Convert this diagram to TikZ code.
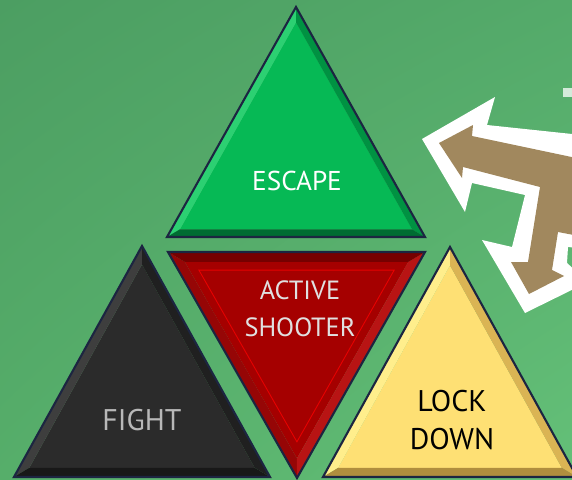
\documentclass[tikz,border=0pt]{standalone}
\usepackage{fontspec}
\setmainfont{PT Sans}
\usetikzlibrary{calc,shadings}
\definecolor{bgtl}{RGB}{76,158,98}
\definecolor{bgtr}{RGB}{84,170,106}
\definecolor{bgbl}{RGB}{86,174,106}
\definecolor{bgbr}{RGB}{100,192,120}
\definecolor{rimblue}{RGB}{28,37,65}
\definecolor{escface}{RGB}{6,185,85}
\definecolor{esclit}{RGB}{44,208,114}
\definecolor{escdim}{RGB}{0,146,66}
\definecolor{escbase}{RGB}{0,108,50}
\definecolor{fightface}{RGB}{43,43,43}
\definecolor{fightlit}{RGB}{62,62,62}
\definecolor{fightdim}{RGB}{32,32,32}
\definecolor{fightbase}{RGB}{24,24,24}
\definecolor{lockface}{RGB}{254,224,116}
\definecolor{locklit}{RGB}{255,238,140}
\definecolor{lockdim}{RGB}{218,180,84}
\definecolor{lockbase}{RGB}{176,142,62}
\definecolor{shootface}{RGB}{165,0,0}
\definecolor{shootleft}{RGB}{150,6,6}
\definecolor{shootright}{RGB}{184,20,20}
\definecolor{shoottop}{RGB}{118,0,0}
\definecolor{arrbrown}{RGB}{161,136,94}
\tikzset{
  rim/.style={draw=rimblue, line width=1.2pt, line join=miter},
  innerline/.style={draw=red!75!shootface, line width=0.5pt},
  escapetext/.style={text=white, font=\fontsize{15.5}{18}\selectfont},
  fighttext/.style={text=black!28, font=\fontsize{17}{20}\selectfont},
  locktext/.style={text=black, align=center, font=\fontsize{17}{21.5}\selectfont},
  shoottext/.style={text=black!12, align=center, font=\fontsize{15}{21}\selectfont},
  arrowrim/.style={fill=white},
  arrowbody/.style={fill=arrbrown}
}
% bevelled triangle: corners, inset, face, side 1-2, side 1-3, side 2-3
\newcommand{\bevtri}[8]{%
  \coordinate (#1m) at (barycentric cs:#1=1,#2=1,#3=1);
  \coordinate (#1in) at ($(#1m)!#4!(#1)$);
  \coordinate (#2in) at ($(#1m)!#4!(#2)$);
  \coordinate (#3in) at ($(#1m)!#4!(#3)$);
  \fill[#5] (#1in)--(#2in)--(#3in)--cycle;
  \fill[#6] (#1)--(#2)--(#2in)--(#1in)--cycle;
  \fill[#7] (#1)--(#3)--(#3in)--(#1in)--cycle;
  \fill[#8] (#2)--(#3)--(#3in)--(#2in)--cycle;
  \draw[rim] (#1)--(#2)--(#3)--cycle;
}
\begin{document}
\begin{tikzpicture}[x=0.02cm, y=-0.02cm]
  \useasboundingbox (0,0) rectangle (572,480);
  \clip (0,0) rectangle (572,480);
  \shade[upper left=bgtl, upper right=bgtr, lower left=bgbl, lower right=bgbr] (0,0) rectangle (572,480);

  % corners
  \coordinate (ea) at (296,7);   \coordinate (eb) at (167,237); \coordinate (ec) at (425,237);
  \coordinate (fa) at (142,246); \coordinate (fb) at (14,477);  \coordinate (fc) at (270,477);
  \coordinate (la) at (450,247); \coordinate (lb) at (323,477); \coordinate (lc) at (577,477);
  \coordinate (sa) at (297,478); \coordinate (sb) at (168,252); \coordinate (sc) at (425,252);

  \bevtri{ea}{eb}{ec}{0.9}{escface}{esclit}{escdim}{escbase}
  \bevtri{fa}{fb}{fc}{0.88}{fightface}{fightlit}{fightdim}{fightbase}
  \bevtri{la}{lb}{lc}{0.88}{lockface}{locklit}{lockdim}{lockbase}
  \bevtri{sa}{sb}{sc}{0.87}{shootface}{shootleft}{shootright}{shoottop}
  \draw[innerline] ($(sam)!0.76!(sa)$) -- ($(sam)!0.76!(sb)$) -- ($(sam)!0.76!(sc)$) -- cycle;

  \node[escapetext] (escape) at (297,181) {ESCAPE};
  \node[fighttext] (fight) at (142,420) {FIGHT};
  \node[locktext] (lockdown) at (452,420) {LOCK\\DOWN};
  \node[shoottext] (shooter) at (300,309) {ACTIVE\\SHOOTER};

  % bent arrow, white rim then body
  \path[arrowrim] (422,139) -- (495,97) -- (487,125) -- (572,134) -- (620,144) -- (620,252)
    -- (568,247) -- (567,263) -- (588,282) -- (525,313) -- (482,240) -- (512,247)
    -- (525,195) -- (472,183) -- (465,212) -- cycle;
  \path[arrowbody] (439,143) -- (473,125) -- (472,136) -- (600,163) -- (600,240)
    -- (558,232) -- (552,270) -- (564,276) -- (529,294) -- (511,262) -- (528,262)
    -- (540,187) -- (463,167) -- (462,178) -- cycle;
  \fill[white, opacity=0.75] (563,88) rectangle (572,97);
\end{tikzpicture}
\end{document}
